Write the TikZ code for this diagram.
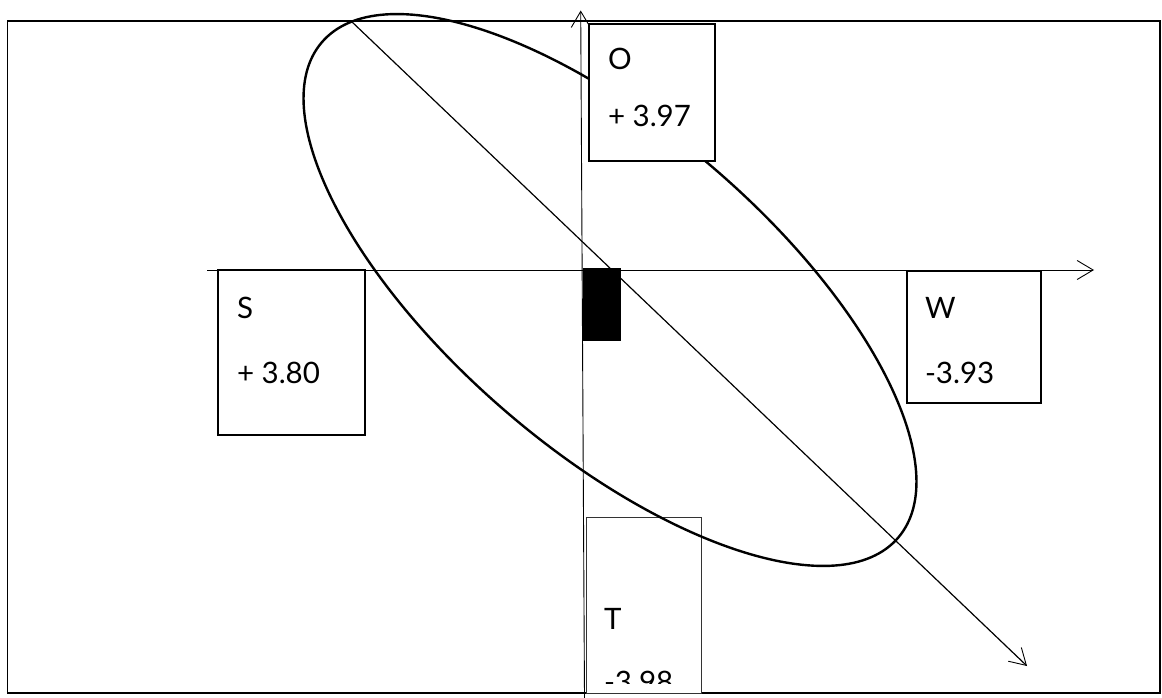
\documentclass[tikz,border=0pt]{standalone}
\usepackage{fontspec}
\setmainfont{Lato}
\usetikzlibrary{arrows.meta}
\begin{document}
\begin{tikzpicture}[x=1pt,y=-1pt,
  axisline/.style={line width=0.9pt,-{Straight Barb[length=16pt,width=19pt,line width=0.9pt]}},
  lbl/.style={inner sep=0pt,outer sep=0pt,anchor=base west,font=\fontsize{29.5}{34}\selectfont},
  boxnode/.style={draw,fill=white,inner sep=0pt,outer sep=0pt,anchor=north west},
  frameline/.style={line width=1.8pt}]
\useasboundingbox (0,0) rectangle (1162,698);
% frame
\draw[frameline] (7.5,21) rectangle (1160,693);
% axis coordinates
\coordinate (hs) at (207,270);
\coordinate (he) at (1094,270);
\coordinate (vs) at (584.5,698);
\coordinate (ve) at (580.7,10.5);
\coordinate (ds) at (351,21);
\coordinate (de) at (1027,666);
\coordinate (ec) at (610,290);
% axes
\draw[axisline] (hs) -- (he);
\draw[axisline] (vs) -- (ve);
\draw[axisline,line width=1.2pt] (ds) -- (de);
% boxes under the ellipse
\node[boxnode,line width=2pt,minimum width=147pt,minimum height=165pt] (sbox) at (218,270) {};
\node[boxnode,line width=1.4pt,minimum width=134pt,minimum height=132pt] (wbox) at (907,271) {};
\node[boxnode,line width=1pt,draw=black!80,minimum width=115pt,minimum height=176pt] (tbox) at (586,517) {};
% ellipse
\draw[line width=2.4pt,rotate around={-40.7:(ec)}] (ec) ellipse [x radius=380pt,y radius=160pt];
% O box on top of the ellipse
\node[boxnode,line width=2.6pt,minimum width=126pt,minimum height=137pt] (obox) at (589,24) {};
% black rectangle
\node[fill=black,inner sep=0pt,outer sep=0pt,anchor=north west,minimum width=38pt,minimum height=73pt] (mark) at (583,268) {};
% labels
\node[lbl] (oname) at (608,70) {O};
\node[lbl] (oval) at (608,127) {+ 3.97};
\node[lbl] (sname) at (237,318) {S};
\node[lbl] (sval) at (237,383) {+ 3.80};
\node[lbl] (wname) at (925,318) {W};
\node[lbl] (wval) at (925,383) {-3.93};
\node[lbl] (tname) at (604,629) {T};
\begin{scope}
\clip (587,600) rectangle (700,683);
\node[lbl] (tval) at (604,692) {-3.98};
\end{scope}
\end{tikzpicture}
\end{document}
